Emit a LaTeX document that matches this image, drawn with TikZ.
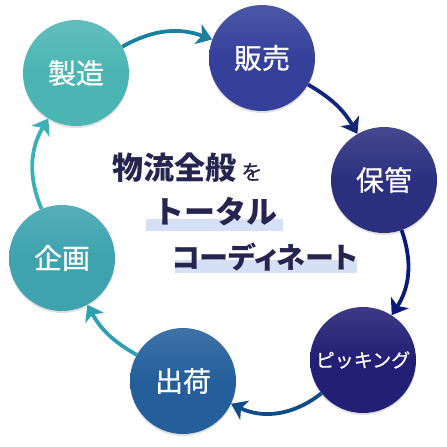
\documentclass[tikz,border=0pt]{standalone}
\usepackage{fontspec}
\usetikzlibrary{arrows.meta, shadows}
\newfontfamily\jp{Noto Sans CJK JP}
\newfontfamily\jpm[FakeBold=0.6]{Noto Sans CJK JP}
\newfontfamily\jpp[RawFeature=+palt]{Noto Sans CJK JP}

\definecolor{ink}{HTML}{25254F}
\definecolor{barblue}{HTML}{D5DFF5}
\definecolor{cSeizo}{HTML}{4BB5B3}
\definecolor{cHanbai}{HTML}{34409A}
\definecolor{cHokan}{HTML}{2C2F7E}
\definecolor{cPick}{HTML}{221F75}
\definecolor{cShukka}{HTML}{245F9B}
\definecolor{cKikaku}{HTML}{3EA3AF}
\definecolor{aSeizo}{HTML}{1B7FA0}
\definecolor{aHanbai}{HTML}{13277A}
\definecolor{aHokan}{HTML}{0B1A7A}
\definecolor{aPick}{HTML}{0F4C88}
\definecolor{aShukka}{HTML}{2DA0B2}
\definecolor{aKikaku}{HTML}{3BB0B5}

\begin{document}
\begin{tikzpicture}[x=1pt, y=-1pt,
  stage/.style={circle, minimum size=106pt, inner sep=0pt, text=white,
    font=\jpm\fontsize{28}{28}\selectfont,
    top color=#1!88!white, bottom color=#1, middle color=#1,
    drop shadow={opacity=.25, shadow xshift=0pt, shadow yshift=-2pt}},
  flow/.style={line width=3.8pt, #1, -{Stealth[length=15pt, width=21pt, inset=4pt]}}]
  \useasboundingbox (0,0) rectangle (447,447);

  % stages
  \node[stage=cSeizo]  (seizo)   at (76,73)   {製造};
  \node[stage=cHanbai] (hanbai)  at (262,58)  {販売};
  \node[stage=cHokan]  (hokan)   at (384,180) {保管};
  \node[stage=cPick, font=\jpm\fontsize{19}{19}\selectfont] (pick) at (363,360) {ピッキング};
  \node[stage=cShukka] (shukka)  at (183,381) {出荷};
  \node[stage=cKikaku] (kikaku)  at (62,258)  {企画};

  % cycle
  \draw[flow=aSeizo]  (seizo)  to[bend left=25] (hanbai);
  \draw[flow=aHanbai] (hanbai) to[bend left=15] (hokan);
  \draw[flow=aHokan]  (hokan)  to[bend left=26] (pick);
  \draw[flow=aPick]   (pick)   to[bend left=32] (shukka);
  \draw[flow=aShukka] (shukka) to[bend left=16] (kikaku);
  \draw[flow=aKikaku] (kikaku) to[bend left=27] (seizo);

  % center text
  \fill[barblue] (146,219) rectangle (283,231);
  \fill[barblue] (175,260) rectangle (357,273);
  \node[anchor=west, text=ink, inner sep=0pt] (title) at (112,168)
    {\jp\fontsize{31}{31}\selectfont\bfseries 物流全般\,{\fontsize{21}{21}\selectfont\mdseries\jpm を}};
  \node[text=ink, inner sep=0pt, font=\jp\fontsize{31}{31}\selectfont\bfseries] (total) at (215,212) {トータル};
  \node[text=ink, inner sep=0pt, font=\jpp\fontsize{29}{29}\selectfont\bfseries] (coord) at (265,257) {コーディネート};
\end{tikzpicture}
\end{document}
